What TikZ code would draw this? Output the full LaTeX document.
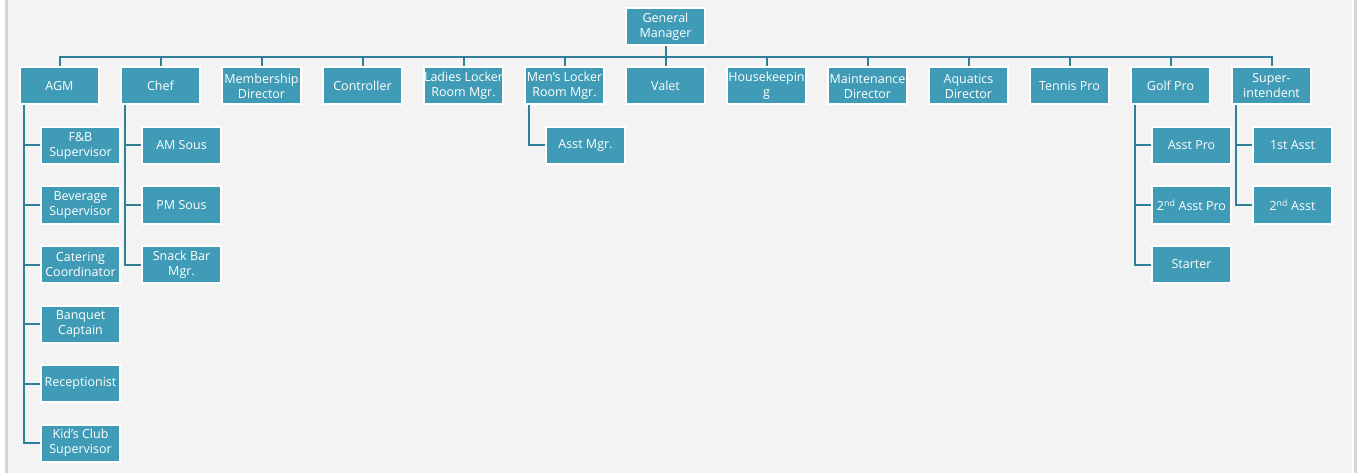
\documentclass[tikz,border=0pt]{standalone}
\usepackage{fontspec}
\setmainfont{Open Sans}
\definecolor{bg}{HTML}{F3F3F3}
\definecolor{edgegray}{HTML}{D4D4D4}
\definecolor{boxfill}{HTML}{409CB6}
\definecolor{linecol}{HTML}{2F7F98}
\tikzset{
  orgbox/.style={draw=white, line width=2pt, fill=boxfill, text=white,
    minimum width=79pt, minimum height=37pt, inner sep=0pt, align=center,
    font=\fontsize{12.5}{15}\selectfont},
  conn/.style={draw=linecol, line width=2pt}
}
\begin{document}
\begin{tikzpicture}[x=1pt,y=-1pt]
\useasboundingbox (0,0) rectangle (1359,473);
\fill[white] (0,0) rectangle (1359,473);
\fill[bg] (7,0) rectangle (1352,473);
\fill[edgegray] (5,0) rectangle (7.5,473);
\fill[edgegray] (1354,0) rectangle (1356.5,473);

% top
\node[orgbox] (gm) at (665.5,27) {General\\Manager};
% level 1
\node[orgbox] (agm) at (59.5,86) {AGM};
\node[orgbox] (chef) at (160.5,86) {Chef};
\node[orgbox] (memb) at (261.5,86) {Membership\\Director};
\node[orgbox] (ctrl) at (362.5,86) {Controller};
\node[orgbox] (ladies) at (463.5,86) {Ladies Locker\\Room Mgr.};
\node[orgbox] (mens) at (564.5,86) {Men’s Locker\\Room Mgr.};
\node[orgbox] (valet) at (665.5,86) {Valet};
\node[orgbox] (house) at (766.5,86) {Housekeepin\\g};
\node[orgbox] (maint) at (867.5,86) {Maintenance\\Director};
\node[orgbox] (aqua) at (968.5,86) {Aquatics\\Director};
\node[orgbox] (tennis) at (1069.5,86) {Tennis Pro};
\node[orgbox] (golf) at (1170.5,86) {Golf Pro};
\node[orgbox] (super) at (1271.5,86) {Super-\\intendent};

% AGM children
\node[orgbox] (fb) at (80.5,145.5) {F\&B\\Supervisor};
\node[orgbox] (bev) at (80.5,205) {Beverage\\Supervisor};
\node[orgbox] (cat) at (80.5,264.5) {Catering\\Coordinator};
\node[orgbox] (banq) at (80.5,324) {Banquet\\Captain};
\node[orgbox] (recep) at (80.5,383.5) {Receptionist};
\node[orgbox] (kids) at (80.5,443) {Kid’s Club\\Supervisor};
% Chef children
\node[orgbox] (amsous) at (181.5,145.5) {AM Sous};
\node[orgbox] (pmsous) at (181.5,205) {PM Sous};
\node[orgbox] (snack) at (181.5,264.5) {Snack Bar\\Mgr.};
% Men's
\node[orgbox] (asstmgr) at (585.5,145.5) {Asst Mgr.};
% Golf
\node[orgbox] (asstpro) at (1191.5,145.5) {Asst Pro};
\node[orgbox] (asstpro2) at (1191.5,205) {2\textsuperscript{nd} Asst Pro};
\node[orgbox] (starter) at (1191.5,264.5) {Starter};
% Super
\node[orgbox] (first) at (1292.5,145.5) {1st Asst};
\node[orgbox] (second) at (1292.5,205) {2\textsuperscript{nd} Asst};

% bus connectors
\foreach \n in {agm,chef,memb,ctrl,ladies,mens,valet,house,maint,aqua,tennis,golf,super}
  \draw[conn] (gm.south) -- ++(0,11) -| (\n.north);

% children connectors
\foreach \p/\c in {agm/fb,agm/bev,agm/cat,agm/banq,agm/recep,agm/kids,
  chef/amsous,chef/pmsous,chef/snack,mens/asstmgr,
  golf/asstpro,golf/asstpro2,golf/starter,super/first,super/second}
  \draw[conn] ([xshift=5pt]\p.south west) |- (\c.west);
\end{tikzpicture}
\end{document}
